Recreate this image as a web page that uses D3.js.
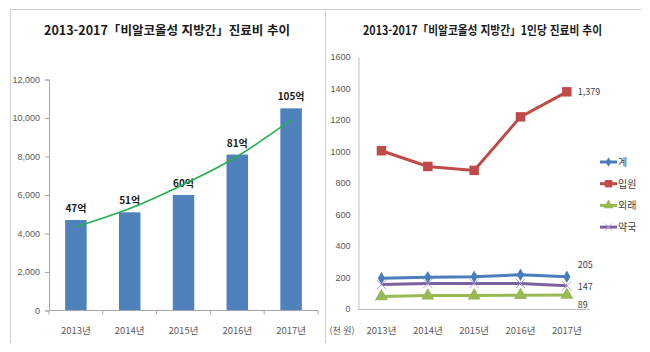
<!DOCTYPE html>
<html lang="ko">
<head>
<meta charset="UTF-8">
<title>비알코올성 지방간 진료비 추이</title>
<script src="https://d3js.org/d3.v7.min.js"></script>
<style>
    body { margin: 0; background: #fff; }
    svg { display: block; font-family: 'Noto Sans CJK KR', 'Noto Sans', sans-serif; }
    .tick-label { fill: #595959; font-size: 9px; }
    .title { font-weight: bold; font-size: 12.5px; fill: #1a1a1a; }
</style>
</head>
<body>
<svg id="chart" width="650" height="352"></svg>
<script>
// left chart: total cost (million won)
const years = ['2013년', '2014년', '2015년', '2016년', '2017년'];
const costValues = [4700, 5100, 6000, 8100, 10500];
const costLabels = ['47억', '51억', '60억', '81억', '105억'];
const trendValues = [4350, 5300, 6550, 8000, 9900];
const costTicks = [0, 2000, 4000, 6000, 8000, 10000, 12000];

// right chart: cost per patient (thousand won)
const seriesNames = ['계', '입원', '외래', '약국'];
const totalPer = [195, 201, 205, 218, 205];
const inpatientPer = [1005, 905, 880, 1220, 1379];
const outpatientPer = [80, 85, 85, 88, 89];
const pharmacyPer = [155, 162, 162, 162, 147];
const perTicks = [0, 200, 400, 600, 800, 1000, 1200, 1400, 1600];
const endLabels = ['205', '1,379', '89', '147'];

const svg = d3.select('#chart');

// frame lines
const frame = svg.append('g').attr('stroke', '#d0d0d0').attr('stroke-width', 1);
frame.append('line').attr('x1', 10).attr('x2', 642).attr('y1', 9.5).attr('y2', 9.5);
frame.append('line').attr('x1', 10.5).attr('x2', 10.5).attr('y1', 9).attr('y2', 343);
frame.append('line').attr('x1', 325.5).attr('x2', 325.5).attr('y1', 9).attr('y2', 343);

// ---------- left bar chart ----------
svg.append('text').attr('class', 'title')
    .attr('x', 44).attr('y', 35)
    .attr('textLength', 246).attr('lengthAdjust', 'spacingAndGlyphs')
    .text('2013-2017「비알코올성 지방간」진료비 추이');

const x1 = d3.scaleBand().domain(years).range([49, 318]).paddingInner(0.6).paddingOuter(0.3);
const y1 = d3.scaleLinear().domain([0, 12000]).range([310.5, 79.5]);

const left = svg.append('g');

left.selectAll('rect.bar')
    .data(costValues)
    .join('rect')
    .attr('class', 'bar')
    .attr('x', (d, i) => x1(years[i]))
    .attr('y', d => y1(d))
    .attr('width', x1.bandwidth())
    .attr('height', d => y1(0) - y1(d))
    .attr('fill', '#4f81bd');

// y axis
const yAxis1 = left.append('g').attr('transform', 'translate(49,0)')
    .call(d3.axisLeft(y1).tickValues(costTicks).tickSize(4).tickPadding(5).tickFormat(d3.format(',')));
yAxis1.select('.domain').attr('stroke', '#a6a6a6');
yAxis1.selectAll('.tick line').attr('stroke', '#a6a6a6');
yAxis1.selectAll('text').attr('class', 'tick-label').attr('font-family', null).attr('font-size', null);

// x axis with ticks at category boundaries
const bandStep = (318 - 49) / years.length;
left.append('line').attr('x1', 49).attr('x2', 318).attr('y1', 310.5).attr('y2', 310.5).attr('stroke', '#a6a6a6');
left.selectAll('line.xtick')
    .data(d3.range(years.length + 1))
    .join('line')
    .attr('class', 'xtick')
    .attr('x1', i => 49 + i * bandStep).attr('x2', i => 49 + i * bandStep)
    .attr('y1', 310.5).attr('y2', 314.5)
    .attr('stroke', '#a6a6a6');
left.selectAll('text.xlab')
    .data(years)
    .join('text')
    .attr('class', 'xlab tick-label')
    .attr('x', d => x1(d) + x1.bandwidth() / 2)
    .attr('y', 334)
    .attr('text-anchor', 'middle')
    .style('font-size', '9.5px')
    .text(d => d);

// value labels
left.selectAll('text.vlab')
    .data(costValues)
    .join('text')
    .attr('class', 'vlab')
    .attr('x', (d, i) => x1(years[i]) + x1.bandwidth() / 2)
    .attr('y', d => y1(d) - 8)
    .attr('text-anchor', 'middle')
    .attr('font-weight', 'bold')
    .attr('font-size', 10)
    .attr('fill', '#1a1a1a')
    .text((d, i) => costLabels[i]);

// trend curve
left.append('path')
    .datum(trendValues)
    .attr('fill', 'none')
    .attr('stroke', '#25b14c')
    .attr('stroke-width', 1.6)
    .attr('d', d3.line()
        .x((d, i) => x1(years[i]) + x1.bandwidth() / 2)
        .y(d => y1(d))
        .curve(d3.curveCatmullRom));

// ---------- right line chart ----------
svg.append('text').attr('class', 'title')
    .attr('x', 363).attr('y', 35)
    .attr('textLength', 239).attr('lengthAdjust', 'spacingAndGlyphs')
    .text('2013-2017「비알코올성 지방간」1인당 진료비 추이');

const x2 = d3.scalePoint().domain(years).range([358.3, 590]).padding(0.5);
const y2 = d3.scaleLinear().domain([0, 1600]).range([309, 57]);

const right = svg.append('g');

const yAxis2 = right.append('g').attr('transform', 'translate(358.5,0)')
    .call(d3.axisLeft(y2).tickValues(perTicks).tickSize(0).tickPadding(8).tickFormat(d3.format('d')));
yAxis2.select('.domain').attr('stroke', '#bfbfbf');
yAxis2.selectAll('text').attr('class', 'tick-label').attr('font-family', null).attr('font-size', null);

right.append('line').attr('x1', 358).attr('x2', 590).attr('y1', 309.5).attr('y2', 309.5).attr('stroke', '#bfbfbf');
right.selectAll('text.xlab')
    .data(years)
    .join('text')
    .attr('class', 'xlab tick-label')
    .attr('x', d => x2(d))
    .attr('y', 334)
    .attr('text-anchor', 'middle')
    .style('font-size', '9.5px')
    .text(d => d);
right.append('text').attr('class', 'tick-label')
    .attr('x', 342).attr('y', 334).attr('text-anchor', 'middle')
    .style('font-size', '9px')
    .text('(천 원)');

const series = [
    { name: seriesNames[0], values: totalPer, color: '#4a7ebb', symbol: d3.symbolDiamond, size: 45, label: endLabels[0], dy: -12 },
    { name: seriesNames[1], values: inpatientPer, color: '#be4b48', symbol: d3.symbolSquare, size: 90, label: endLabels[1], dy: 0 },
    { name: seriesNames[2], values: outpatientPer, color: '#98b954', symbol: d3.symbolTriangle, size: 75, label: endLabels[2], dy: 10 },
    { name: seriesNames[3], values: pharmacyPer, color: '#7d60a0', symbol: d3.symbolX, size: 60, label: endLabels[3], dy: 1 }
];
// draw order: pharmacy under total
const drawOrder = [2, 3, 0, 1];

const line2 = d3.line().x((d, i) => x2(years[i])).y(d => y2(d));

drawOrder.forEach(k => {
    const s = series[k];
    const g = right.append('g');
    g.append('path')
        .datum(s.values)
        .attr('fill', 'none')
        .attr('stroke', s.color)
        .attr('stroke-width', 3)
        .attr('d', line2);
    g.selectAll('path.mark')
        .data(s.values)
        .join('path')
        .attr('class', 'mark')
        .attr('transform', (d, i) => `translate(${x2(years[i])},${y2(d)})`)
        .attr('d', d3.symbol().type(s.symbol).size(s.size))
        .attr('fill', s.symbol === d3.symbolX ? 'none' : s.color)
        .attr('stroke', s.symbol === d3.symbolX ? '#b4a7d6' : 'none')
        .attr('stroke-width', 1);
    const last = s.values[s.values.length - 1];
    g.append('text')
        .attr('x', x2(years[4]) + 11)
        .attr('y', y2(last) + s.dy + 3.5)
        .attr('font-size', 9)
        .attr('fill', '#404040')
        .text(s.label);
});

// legend
const legend = right.append('g');
series.forEach((s, i) => {
    const ly = 162 + i * 21.7;
    const lg = legend.append('g').attr('transform', `translate(600,${ly})`);
    lg.append('line').attr('x1', 0).attr('x2', 17).attr('stroke', s.color).attr('stroke-width', 3);
    lg.append('path')
        .attr('transform', 'translate(8.5,0)')
        .attr('d', d3.symbol().type(s.symbol).size(s.size * 0.6))
        .attr('fill', s.symbol === d3.symbolX ? 'none' : s.color)
        .attr('stroke', s.symbol === d3.symbolX ? '#b4a7d6' : 'none');
    lg.append('text').attr('x', 18).attr('y', 4).attr('font-size', 10).attr('fill', '#404040').text(s.name);
});
</script>
</body>
</html>
